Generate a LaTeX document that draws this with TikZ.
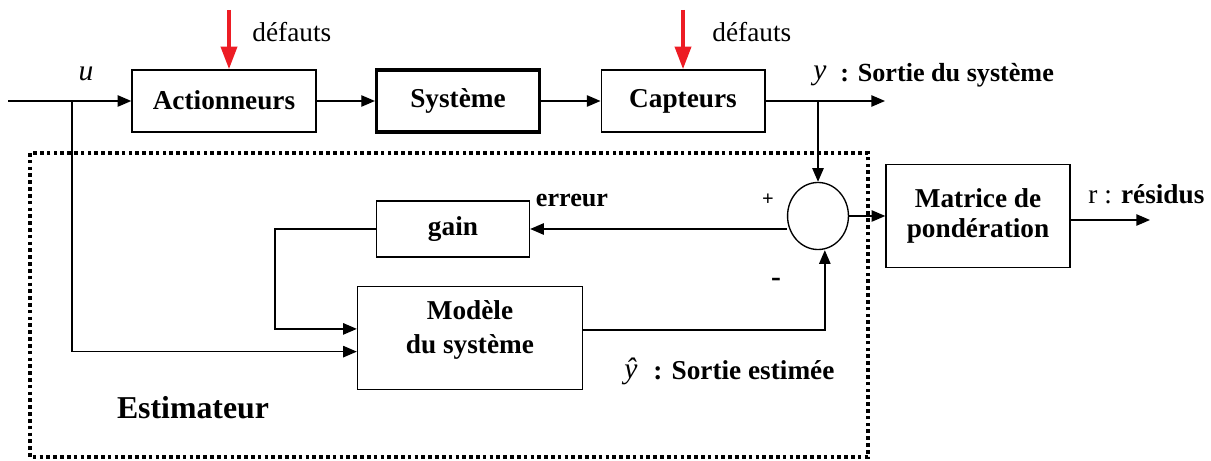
\documentclass[tikz,border=0pt]{standalone}
\usepackage{fontspec}
\setmainfont{Liberation Serif}
\usetikzlibrary{arrows.meta,shapes.geometric}

\begin{document}
\begin{tikzpicture}[x=0.44pt,y=-0.44pt]
			\tikzset{bloc/.style={draw,line width=0.6pt,font=\fontsize{12}{13}\selectfont\bfseries,align=center,inner sep=0pt}}
			\tikzset{fl/.style={line width=0.6pt,-{Triangle[length=6pt,width=5pt]}}}
			\tikzset{defaut/.style={draw={rgb,255:red,237;green,28;blue,36},line width=1.8pt,-{Triangle[length=10pt,width=7pt]},color={rgb,255:red,237;green,28;blue,36}}}
			\tikzset{lab/.style={font=\fontsize{12}{13}\selectfont,inner sep=0pt}}
			\useasboundingbox (0,0) rectangle (1211,461);
			% chaine principale
			\node[bloc,minimum width=81pt,minimum height=27.3pt] (act) at (224,101) {\raisebox{1pt}{Actionneurs}};
			\node[bloc,line width=1.4pt,minimum width=71.7pt,minimum height=27.3pt] (sys) at (458,101) {\raisebox{1pt}{Système}};
			\node[bloc,minimum width=72pt,minimum height=27.3pt] (cap) at (683,101) {\raisebox{1pt}{Capteurs}};
			\coordinate (uin) at (8,101);
			\coordinate (ubr) at (72,101);
			\coordinate (yout) at (885,101);
			\draw[fl] (uin) -- (act);
			\draw[fl] (act) -- (sys);
			\draw[fl] (sys) -- (cap);
			\draw[fl] (cap) -- (yout);
			\node[lab,font=\fontsize{13}{14}\selectfont\itshape] (u) at (86,74) {u};
			\node[lab,font=\fontsize{13}{14}\selectfont\itshape] (y) at (820,76) {y};
			\node[lab,font=\fontsize{11.5}{12}\selectfont\bfseries,anchor=west] (ytxt) at (840,75) {: Sortie du système};
			% defauts
			\coordinate (d1) at (229,10);
			\coordinate (d2) at (683,10);
			\draw[defaut] (d1) -- (act.north -| d1);
			\draw[defaut] (d2) -- (cap.north);
			\node[lab,anchor=west] (df1) at (252,32) {défauts};
			\node[lab,anchor=west] (df2) at (712,32) {défauts};
			% estimateur
			\node[draw,ellipse,line width=0.6pt,minimum width=26.8pt,minimum height=29.5pt,inner sep=0pt] (cmp) at (818,216) {};
			\node[bloc,minimum width=67.3pt,minimum height=24.6pt] (gain) at (453,229) {gain};
			\node[bloc,minimum width=99pt,minimum height=45.3pt] (mod) at (470,338) {};
			\node[bloc,draw=none,font=\fontsize{12}{15}\selectfont\bfseries] (modtxt) at (470,330) {Modèle\\du système};
			\node[bloc,minimum width=81pt,minimum height=45.3pt] (mat) at (978,216) {Matrice de\\pondération};
			\coordinate (ybr) at (cmp.north |- cap.east);
			\draw[fl] (ybr) -- (cmp.north);
			\draw[fl] (cmp.west |- gain.east) -- (gain.east);
			\coordinate (gk) at (275,229);
			\draw[fl] (gain.west) -- (gk) |- ([yshift=4pt]mod.west);
			\draw[fl] (ubr) |- ([yshift=-6pt]mod.west);
			\draw[fl] ([yshift=3.5pt]mod.east) -| ([xshift=3pt]cmp.south);
			\draw[fl] (cmp.east) -- (mat.west |- cmp.east);
			\coordinate (rout) at (1150,220);
			\draw[fl] (mat.east |- rout) -- (rout);
			\node[lab,font=\fontsize{9}{10}\selectfont\bfseries] (plus) at (768,200) {+};
			\node[lab,font=\fontsize{13}{14}\selectfont\bfseries] (moins) at (776,282) {-};
			\node[lab,font=\fontsize{11.5}{12}\selectfont\bfseries] (err) at (572,200) {erreur};
			\node[lab,anchor=west] (res) at (1088,194) {r : \textbf{résidus}};
			\node[lab,font=\fontsize{13}{14}\selectfont\itshape] (yh) at (631,371) {ŷ};
			\node[lab,font=\fontsize{12}{13}\selectfont\bfseries,anchor=west] (yhtxt) at (653,370) {: Sortie estimée};
			\node[lab,font=\fontsize{14}{15}\selectfont\bfseries] (est) at (193,408) {Estimateur};
			\draw[line width=1.4pt,dash pattern=on 1.6pt off 1.4pt] (30,153) rectangle (868,457);
		\end{tikzpicture}
\end{document}
